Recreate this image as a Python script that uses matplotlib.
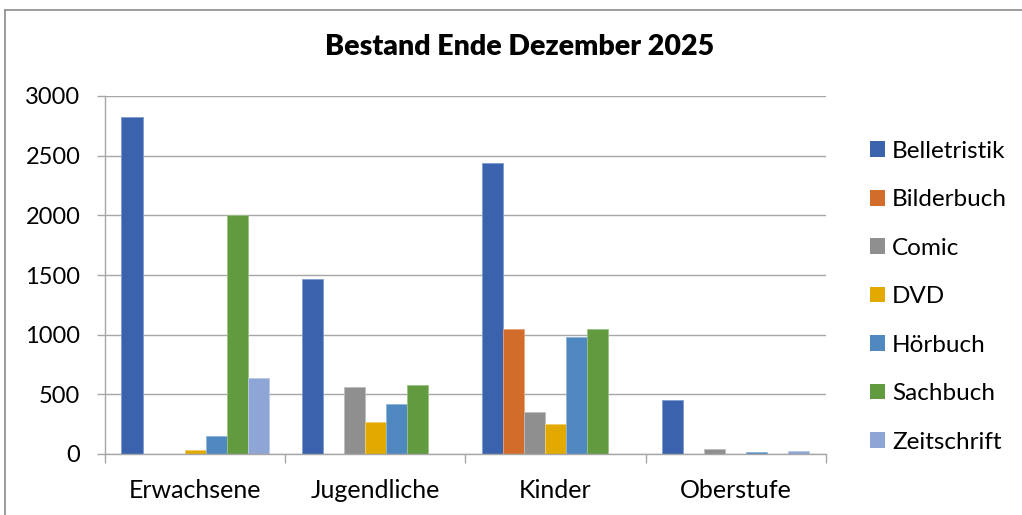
import numpy as np
import matplotlib
matplotlib.use("Agg")
import matplotlib.pyplot as plt
from matplotlib.lines import Line2D
from matplotlib.patches import Patch

plt.rcParams['font.family'] = ['Lato', 'DejaVu Sans']

categories = ["Erwachsene", "Jugendliche", "Kinder", "Oberstufe"]
series = ["Belletristik", "Bilderbuch", "Comic", "DVD", "Hörbuch", "Sachbuch", "Zeitschrift"]

belletristik = [2825, 1470, 2437, 450]
bilderbuch = [0, 0, 1045, 0]
comic = [0, 565, 355, 39]
dvd = [33, 271, 254, 0]
hoerbuch = [151, 419, 983, 17]
sachbuch = [2000, 576, 1050, 0]
zeitschrift = [634, 0, 0, 25]

values = [belletristik, bilderbuch, comic, dvd, hoerbuch, sachbuch, zeitschrift]
colors = ["#3B63AD", "#D26C2B", "#8F8F8F", "#E2A900", "#4F88BF", "#629A40", "#8FA5D5"]
edges = ["#7F9BD0", "#E9A37A", "#BDBDBD", "#F0CF66", "#8FB5DA", "#9BC283", "#B9C8E8"]

W, H = 1022, 515
fig = plt.figure(figsize=(W / 100, H / 100), dpi=100)
ax = fig.add_axes([105 / W, 1 - 454 / H, 720.7 / W, 358 / H])

x = np.arange(len(categories))
bw = 0.1167
for i, (name, vals) in enumerate(zip(series, values)):
    ax.bar(x + (i - 3) * bw, vals, bw, color=colors[i], edgecolor=edges[i],
           linewidth=0.6, label=name, zorder=3)

ax.set_xlim(-0.5, 3.5)
ax.set_ylim(0, 3000)
ax.set_yticks(range(0, 3001, 500))
ax.grid(axis="y", color="#a6a6a6", linewidth=1.0, zorder=0)

ax.set_xticks([-0.5, 0.5, 1.5, 2.5, 3.5])
ax.set_xticklabels([])
ax.set_xticks(x, minor=True)
ax.set_xticklabels(categories, minor=True, fontsize=18)
ax.tick_params(axis="x", which="major", length=6.5, color="#a6a6a6", width=1.0)
ax.tick_params(axis="x", which="minor", length=0, pad=18)
ax.tick_params(axis="y", length=5.8, color="#a6a6a6", width=1.0, pad=12, labelsize=17)

for s in ["top", "right"]:
    ax.spines[s].set_visible(False)
for s in ["left", "bottom"]:
    ax.spines[s].set_color("#a6a6a6")
    ax.spines[s].set_linewidth(1.0)
    ax.spines[s].set_zorder(4)

fig.text(520 / W, 1 - 47 / H, "Bestand Ende Dezember 2025", ha="center", va="center",
         fontsize=20.5, fontweight="heavy")

handles = [Patch(facecolor=c, edgecolor="none") for c in colors]
ax.legend(handles, series, loc="upper left", bbox_to_anchor=(860 / W, 1 - 131 / H),
          bbox_transform=fig.transFigure, frameon=False, fontsize=17.5,
          handlelength=0.62, handleheight=0.62, handletextpad=0.3,
          labelspacing=1.13, borderaxespad=0)

# outer chart frame
fig.add_artist(Line2D([4.5 / W, 4.5 / W], [0, 1 - 10 / H], color="#8c8c8c", linewidth=1.2))
fig.add_artist(Line2D([4.5 / W, 1], [1 - 10 / H, 1 - 10 / H], color="#8c8c8c", linewidth=1.2))

fig.savefig("out.png", dpi=100)
